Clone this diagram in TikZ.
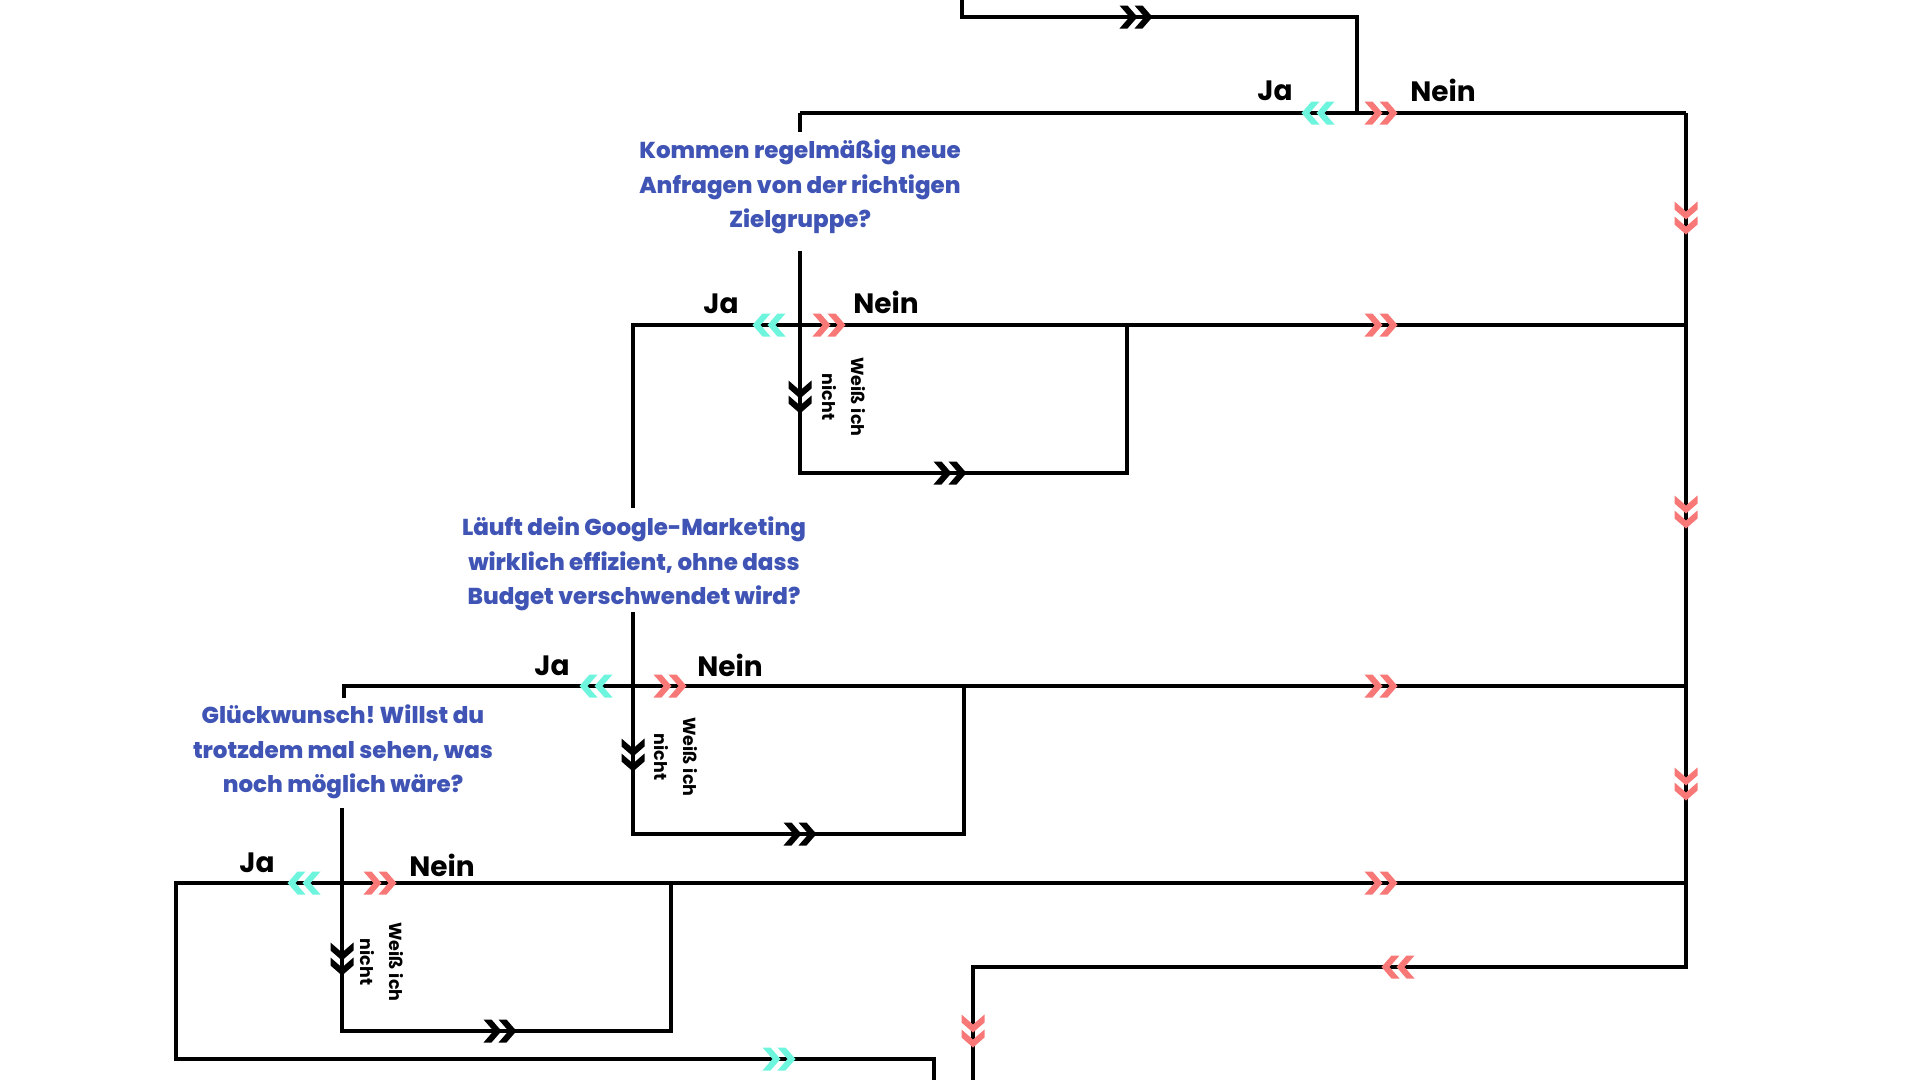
\documentclass[tikz,border=0pt]{standalone}
\usepackage{fontspec}
\setmainfont{Poppins}
\newfontfamily\qfont{Poppins}[UprightFont={* ExtraBold}]
\definecolor{qblue}{RGB}{63,84,180}
\definecolor{jacol}{RGB}{110,245,222}
\definecolor{neincol}{RGB}{248,120,120}
\tikzset{
  flow/.style={draw=black, line width=3.5pt, line join=miter},
  question/.style={text=qblue, font=\qfont\fontsize{23}{34.5}\selectfont, align=center, inner sep=0pt},
  answer/.style={font=\bfseries\fontsize{28}{30}\selectfont, inner sep=0pt},
  unsure/.style={font=\bfseries\fontsize{17.5}{29}\selectfont, rotate=-90, align=center, inner sep=0pt},
  dchev/.pic={
    \fill[pic actions] (-16.5,11.5) -- (-8.5,11.5) -- (1.5,0) -- (-8.5,-11.5) -- (-16.5,-11.5) -- (-6.5,0) -- cycle;
    \fill[pic actions] (-1.5,11.5) -- (6.5,11.5) -- (16.5,0) -- (6.5,-11.5) -- (-1.5,-11.5) -- (8.5,0) -- cycle;
  },
  right/.style={fill=#1},
  left/.style={fill=#1, rotate=180},
  down/.style={fill=#1, rotate=-90}
}
\begin{document}
\frenchspacing
\begin{tikzpicture}[x=1pt,y=-1pt]
\useasboundingbox[fill=white] (0,0) rectangle (1920,1080);

% question nodes
\node[question] (q1) at (800,187) {Kommen regelmäßig neue\\Anfragen von der richtigen\\Zielgruppe?};
\node[question] (q2) at (634,564) {Läuft dein Google-Marketing\\wirklich effizient, ohne dass\\Budget verschwendet wird?};
\node[question] (q3) at (343,752) {Glückwunsch! Willst du\\trotzdem mal sehen, was\\noch möglich wäre?};

% coordinates
\coordinate (top) at (962,0);
\coordinate (t2) at (1357,17);
\coordinate (j1) at (1357,113);
\coordinate (l1) at (800,113);
\coordinate (r1) at (1686,113);
\coordinate (q1in) at (800,132);
\coordinate (q1out) at (800,251);
\coordinate (b1) at (1127,473);
\coordinate (b1t) at (1127,325);
\coordinate (q2in) at (633,508);
\coordinate (r2) at (1686,325);
\coordinate (q2out) at (633,612);
\coordinate (b2) at (964,834);
\coordinate (b2t) at (964,686);
\coordinate (q3in) at (344,698);
\coordinate (r3) at (1686,686);
\coordinate (q3out) at (342,808);
\coordinate (b3) at (671,1031);
\coordinate (b3t) at (671,883);
\coordinate (bl) at (934,1080);
\coordinate (bl1) at (934,1059);
\coordinate (bl2) at (176,1059);
\coordinate (bl3) at (176,883);
\coordinate (r4) at (1686,883);
\coordinate (rb) at (1686,967);
\coordinate (rb2) at (973,967);
\coordinate (rbe) at (973,1080);

% connectors
\draw[flow] (top) |- (t2) -- (j1);
\draw[flow] (l1) -- (r1);
\draw[flow] (l1) -- (q1in);
\draw[flow] (q1out) |- (b1) -- (b1t);
\draw[flow] (q2in) |- (r2);
\draw[flow] (q2out) |- (b2) -- (b2t);
\draw[flow] (q3in) |- (r3);
\draw[flow] (q3out) |- (b3) -- (b3t);
\draw[flow] (bl) -- (bl1) -- (bl2) -- (bl3) -- (r4);
\draw[flow] (r1) -- (rb) -- (rb2) -- (rbe);

% chevrons
\pic[right=black] at (1136,17) {dchev};
\pic[left=jacol] at (1318,113) {dchev};
\pic[right=neincol] at (1381,113) {dchev};
\pic[down=neincol] at (1686,218) {dchev};
\pic[down=neincol] at (1686,512) {dchev};
\pic[down=neincol] at (1686,784) {dchev};
\pic[down=black] at (800,397) {dchev};
\pic[left=jacol] at (769,325) {dchev};
\pic[right=neincol] at (829,325) {dchev};
\pic[right=neincol] at (1381,325) {dchev};
\pic[right=black] at (950,473) {dchev};
\pic[down=black] at (633,755) {dchev};
\pic[left=jacol] at (596,686) {dchev};
\pic[right=neincol] at (670,686) {dchev};
\pic[right=neincol] at (1381,686) {dchev};
\pic[right=black] at (800,834) {dchev};
\pic[down=black] at (342,959) {dchev};
\pic[left=jacol] at (304,883) {dchev};
\pic[right=neincol] at (380,883) {dchev};
\pic[right=neincol] at (1381,883) {dchev};
\pic[right=black] at (500,1031) {dchev};
\pic[right=jacol] at (779,1059) {dchev};
\pic[left=neincol] at (1398,967) {dchev};
\pic[down=neincol] at (973,1031) {dchev};

% answer labels
\node[answer] (ja1) at (1275,91) {Ja};
\node[answer] (nein1) at (1443,90) {Nein};
\node[answer] (ja2) at (721,304) {Ja};
\node[answer] (nein2) at (886,302) {Nein};
\node[answer] (ja3) at (552,666) {Ja};
\node[answer] (nein3) at (730,665) {Nein};
\node[answer] (ja4) at (257,863) {Ja};
\node[answer] (nein4) at (442,865) {Nein};

% unsure labels
\node[unsure] (wn1) at (844,397) {Weiß ich\\nicht};
\node[unsure] (wn2) at (676,757) {Weiß ich\\nicht};
\node[unsure] (wn3) at (382,962) {Weiß ich\\nicht};
\end{tikzpicture}
\end{document}
